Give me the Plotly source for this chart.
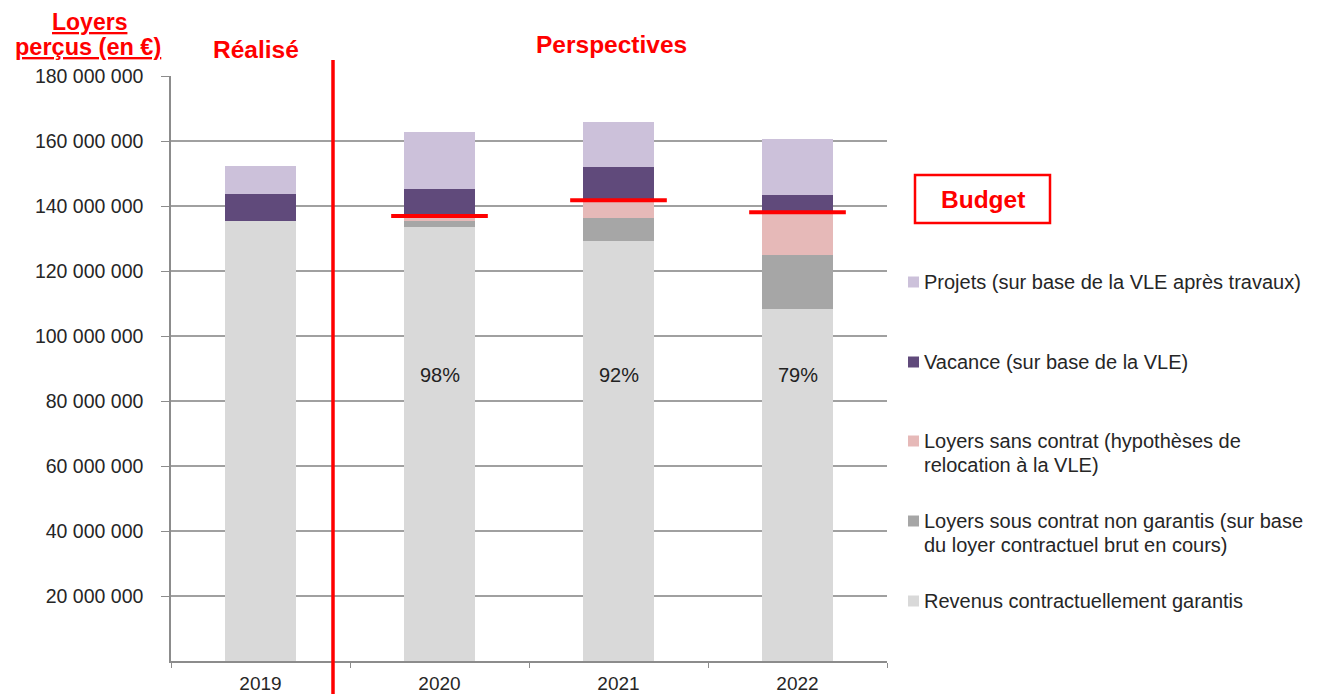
import plotly.graph_objects as go

years = ["2019", "2020", "2021", "2022"]
garantis = [135.4e6, 133.6e6, 129.2e6, 108.3e6]
non_garantis = [0.0, 1.8e6, 7.2e6, 16.6e6]
sans_contrat = [0.0, 0.9e6, 5.1e6, 13.0e6]
vacance = [8.2e6, 8.8e6, 10.6e6, 5.5e6]
projets = [8.7e6, 17.6e6, 13.8e6, 17.1e6]
budget = [None, 136.9e6, 141.8e6, 138.1e6]
pct_labels = [None, "98%", "92%", "79%"]
pct_y = 88e6

series_names = [
    "Revenus contractuellement garantis",
    "Loyers sous contrat non garantis (sur base du loyer contractuel brut en cours)",
    "Loyers sans contrat (hypothèses de relocation à la VLE)",
    "Vacance (sur base de la VLE)",
    "Projets (sur base de la VLE après travaux)",
]
series_values = [garantis, non_garantis, sans_contrat, vacance, projets]
series_colors = ["#D9D9D9", "#A6A6A6", "#E6B9B8", "#604A7B", "#CCC1DA"]

ytick_vals = [20e6 * i for i in range(1, 10)]
ytick_text = ["20 000 000", "40 000 000", "60 000 000", "80 000 000", "100 000 000",
              "120 000 000", "140 000 000", "160 000 000", "180 000 000"]

FONT = "Liberation Sans, Arial, sans-serif"
OFF = 8  # page body margin
W, H = 1319 - OFF, 694 - OFF
# plot area in reference pixel coordinates
RL, RR, RT, RB = 171, 887, 76, 661
L, R, T, B = RL - OFF, RR - OFF, RT - OFF, RB - OFF


def px(x):
    return (x - RL) / (RR - RL)


def py(y):
    return (RB - y) / (RB - RT)


fig = go.Figure()
for name, vals, col in zip(series_names, series_values, series_colors):
    fig.add_trace(go.Bar(x=years, y=vals, name=name, marker=dict(color=col, line=dict(width=0)),
                         width=0.4, showlegend=False, hovertemplate="%{y}<extra>" + name[:20] + "</extra>"))

shapes = []
annotations = []

# budget lines
for i, b in enumerate(budget):
    if b is not None:
        shapes.append(dict(type="line", xref="x", yref="y", x0=i - 0.27, x1=i + 0.27, y0=b, y1=b,
                           line=dict(color="#FF0000", width=4)))

# percentage labels
for i, t in enumerate(pct_labels):
    if t:
        annotations.append(dict(x=i, y=pct_y, xref="x", yref="y", text=t, showarrow=False,
                                font=dict(family=FONT, size=20, color="#222222")))

# red separator
shapes.append(dict(type="line", xref="x", yref="paper", x0=0.405, x1=0.405, y0=py(700), y1=py(60),
                   line=dict(color="#FF0000", width=3.5)))

# titles
red_bold = dict(family=FONT, size=24.5, color="#FF0000")
annotations += [
    dict(x=px(89), y=py(8), xref="paper", yref="paper", text="<b><u>Loyers</u></b>", showarrow=False,
         font=dict(family=FONT, size=23, color="#FF0000"), xanchor="center", yanchor="top",
         borderpad=0),
    dict(x=px(88), y=py(47), xref="paper", yref="paper", text="<b><u>perçus (en €)</u></b>", showarrow=False,
         font=dict(family=FONT, size=23.5, color="#FF0000"), xanchor="center", yanchor="middle"),
    dict(x=px(256), y=py(50), xref="paper", yref="paper", text="<b>Réalisé</b>", showarrow=False,
         font=red_bold, xanchor="center", yanchor="middle"),
    dict(x=px(611), y=py(45), xref="paper", yref="paper", text="<b>Perspectives</b>", showarrow=False,
         font=red_bold, xanchor="center", yanchor="middle"),
    dict(x=px(983), y=py(199), xref="paper", yref="paper", text="<b>Budget</b>", showarrow=False,
         font=red_bold, xanchor="center", yanchor="middle"),
]
shapes.append(dict(type="rect", xref="paper", yref="paper", x0=px(915), x1=px(1050), y0=py(223), y1=py(175),
                   line=dict(color="#FF0000", width=2.5)))

# manual legend (top to bottom)
legend_items = [
    (series_colors[4], ["Projets (sur base de la VLE après travaux)"], 282),
    (series_colors[3], ["Vacance (sur base de la VLE)"], 362),
    (series_colors[2], ["Loyers sans contrat (hypothèses de", "relocation à la VLE)"], 441),
    (series_colors[1], ["Loyers sous contrat non garantis (sur base", "du loyer contractuel brut en cours)"], 521),
    (series_colors[0], ["Revenus contractuellement garantis"], 601),
]
for col, lines, y0 in legend_items:
    shapes.append(dict(type="rect", xref="paper", yref="paper", x0=px(908), x1=px(919),
                       y0=py(y0 + 5.5), y1=py(y0 - 5.5), fillcolor=col, line=dict(width=0)))
    for k, line in enumerate(lines):
        annotations.append(dict(x=px(922), y=py(y0 + 24 * k), xref="paper", yref="paper", text=line,
                                showarrow=False, xanchor="left", yanchor="middle",
                                font=dict(family=FONT, size=20, color="#262626")))

fig.update_layout(
    barmode="stack",
    width=W, height=H,
    margin=dict(l=L, r=W - R, t=T, b=H - B, pad=0, autoexpand=False),
    paper_bgcolor="white", plot_bgcolor="white",
    font=dict(family=FONT, size=19.5, color="#262626"),
    shapes=shapes, annotations=annotations,
)
fig.update_xaxes(type="category", range=[-0.5, 3.5], showline=True, linecolor="#8C8C8C", linewidth=1.5,
                 ticks="outside", tickson="boundaries", ticklen=5, tickcolor="#8C8C8C",
                 showgrid=False, automargin=False, tickangle=0, ticklabelstandoff=4,
                 tickfont=dict(family=FONT, size=19, color="#262626"))
fig.update_yaxes(range=[0, 180e6], tickvals=ytick_vals, ticktext=ytick_text,
                 showgrid=True, gridcolor="#A0A0A0", gridwidth=1.5, zeroline=False,
                 showline=True, linecolor="#8C8C8C", linewidth=1.5,
                 ticks="outside", ticklen=8, tickcolor="#8C8C8C", automargin=False,
                 ticklabelstandoff=14,
                 tickfont=dict(family=FONT, size=19.5, color="#262626"))

fig.write_html("out.html")
